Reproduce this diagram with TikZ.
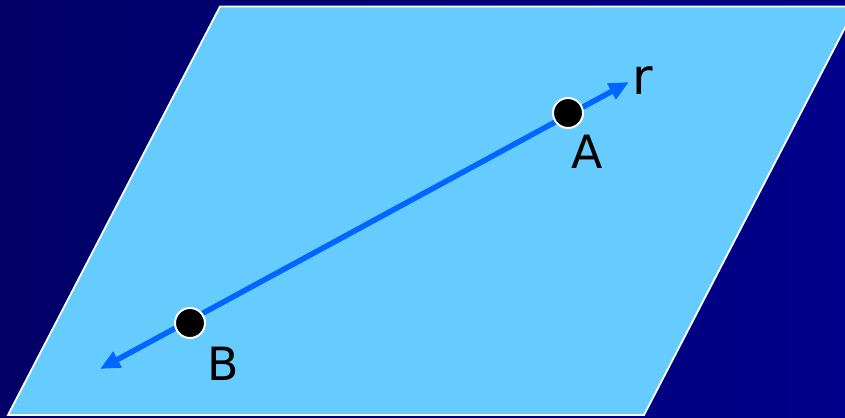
\documentclass[tikz,border=0pt]{standalone}
\usepackage{fontspec}
\setmainfont{DejaVu Sans}
\usepackage{tikz}
\usepackage{xcolor}
\usetikzlibrary{arrows.meta,positioning}
\definecolor{bgleft}{HTML}{000066}
\definecolor{bgright}{HTML}{00008A}
\definecolor{planefill}{HTML}{66CCFF}
\definecolor{linecol}{HTML}{0066FF}
\tikzset{
  plane/.style    = {fill=planefill, draw=white, line width=1.8bp, line join=miter},
  rline/.style    = {{Triangle[length=20bp,width=17bp]}-{Triangle[length=20bp,width=17bp]},
                     line width=5.5bp, linecol},
  ptdot/.style    = {circle, fill=black, draw=white, line width=2bp,
                     minimum size=30bp, inner sep=0pt},
  ptlabel/.style  = {font=\fontsize{46}{55}\selectfont, text=black, anchor=base, inner sep=0pt},
}

\begin{document}
\begin{tikzpicture}[x=1bp,y=-1bp]
\useasboundingbox (0,0) rectangle (845,417);
% background
\shade[left color=bgleft, right color=bgright] (0,0) rectangle (845,417);

% plane
\begin{scope}
\clip (0,0) rectangle (845,417);
\draw[plane] (220,6.5) -- (856,6.5) -- (644,415) -- (8,415) -- cycle;
\end{scope}

% line r with points
\coordinate (rtip) at (629,82);
\coordinate (ltip) at (100,369);
\draw[rline] (ltip) -- (rtip);
\node[ptdot] (ptA) at (568,113) {};
\node[ptdot] (ptB) at (190,323) {};

% labels
\node[ptlabel] (lblA) at (587.5,168) {A};
\node[ptlabel] (lblB) at (223.5,380) {B};
\node[ptlabel, font=\fontsize{50}{60}\selectfont] (lblr) at (642.5,94) {r};
\end{tikzpicture}
\end{document}
